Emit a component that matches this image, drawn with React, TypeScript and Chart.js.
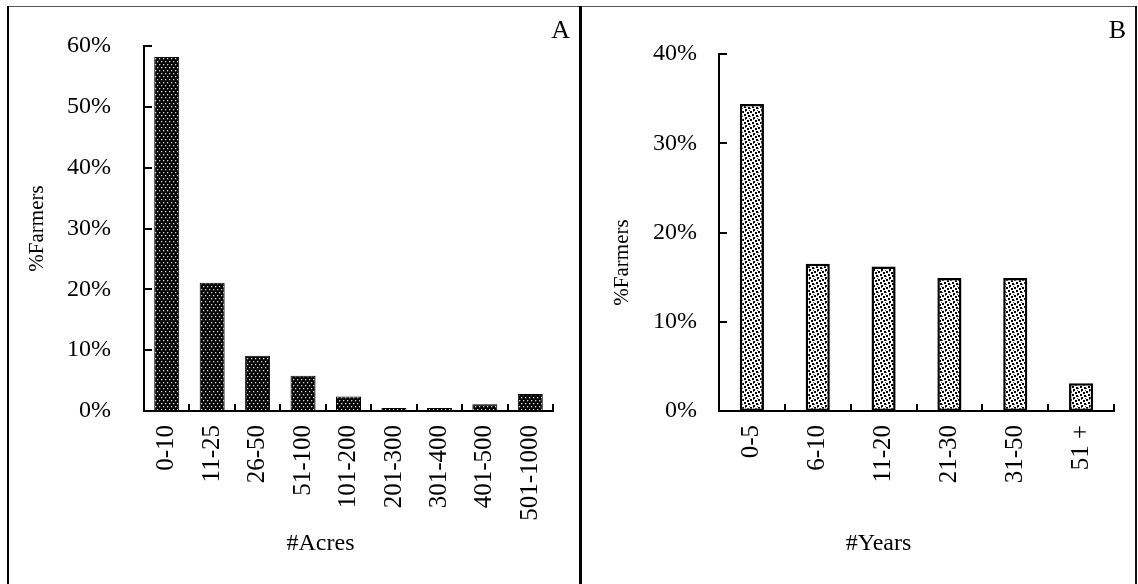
import React, { useEffect, useRef } from 'react';
import { Chart, registerables } from 'chart.js';
Chart.register(...registerables);

// ---- data ----
const acresCategories = ['0-10', '11-25', '26-50', '51-100', '101-200', '201-300', '301-400', '401-500', '501-1000'];
const acresValues = [58.2, 21.1, 9.1, 5.8, 2.4, 0.5, 0.5, 1.1, 2.8];
const acresTickMax = 60;

const yearsCategories = ['0-5', '6-10', '11-20', '21-30', '31-50', '51 +'];
const yearsValues = [34.4, 16.5, 16.2, 14.9, 14.9, 3.1];
const yearsTickMax = 40;

const tickStep = 10;
const FONT = "'Liberation Serif', 'Times New Roman', serif";

function makePatternDark(): CanvasPattern | string {
  const c = document.createElement('canvas');
  c.width = 4; c.height = 6;
  const g = c.getContext('2d');
  if (!g) return '#000';
  g.fillStyle = '#000'; g.fillRect(0, 0, 4, 6);
  g.fillStyle = '#d8d8d8';
  g.fillRect(0, 0, 1.3, 1.3);
  g.fillRect(2, 3, 1.3, 1.3);
  const p = g.createPattern(c, 'repeat');
  return p || '#000';
}

function makePatternLight(): CanvasPattern | string {
  const c = document.createElement('canvas');
  c.width = 8; c.height = 8;
  const g = c.getContext('2d');
  if (!g) return '#fff';
  g.fillStyle = '#fff'; g.fillRect(0, 0, 8, 8);
  g.fillStyle = '#000';
  g.fillRect(0, 0, 2, 2);
  g.fillRect(5, 1, 2, 2);
  g.fillRect(2, 3, 2, 2);
  g.fillRect(6, 4, 2, 2);
  g.fillRect(3, 6, 2, 2);
  g.fillStyle = '#555';
  g.fillRect(0, 5, 1, 1);
  g.fillRect(3, 0, 1, 1);
  g.fillRect(7, 7, 1, 1);
  const p = g.createPattern(c, 'repeat');
  return p || '#fff';
}

const decorPlugin = {
  id: 'decor',
  afterDatasetsDraw(chart: any, _args: any, opts: any) {
    const { ctx, chartArea } = chart;
    const x = chart.scales.x;
    const y = chart.scales.y;
    ctx.save();
    ctx.strokeStyle = '#000';
    ctx.lineWidth = 2;
    const n = chart.data.labels.length;
    const half = (x.getPixelForValue(1) - x.getPixelForValue(0)) / 2;
    ctx.beginPath();
    for (let i = 0; i < n; i++) {
      const px = Math.round(x.getPixelForValue(i) + half);
      ctx.moveTo(px, chartArea.bottom);
      ctx.lineTo(px, chartArea.bottom - 7);
    }
    y.ticks.forEach((t: any) => {
      const py = Math.round(y.getPixelForValue(t.value));
      ctx.moveTo(chartArea.left, py);
      ctx.lineTo(chartArea.left + 8, py);
    });
    ctx.stroke();

    ctx.fillStyle = '#000';
    ctx.textAlign = 'center';
    ctx.textBaseline = 'middle';
    // x title
    ctx.font = `24px ${FONT}`;
    ctx.fillText(opts.xTitle, (chartArea.left + chartArea.right) / 2 + opts.xTitleDx, opts.xTitleY);
    // y title
    ctx.save();
    ctx.font = `21px ${FONT}`;
    ctx.translate(opts.yTitleX, (chartArea.top + chartArea.bottom) / 2 + opts.yTitleDy);
    ctx.rotate(-Math.PI / 2);
    ctx.fillText(opts.yTitle, 0, 0);
    ctx.restore();
    // panel letter
    ctx.font = `26px ${FONT}`;
    ctx.textAlign = 'right';
    ctx.fillText(opts.letter, chart.width - opts.letterRight, opts.letterY);
    ctx.restore();
  },
};

interface PanelProps {
  labels: string[];
  values: number[];
  max: number;
  width: number;
  height: number;
  left: number;
  top: number;
  right: number;
  bottom: number;
  barPct: number;
  dark: boolean;
  tickPad: number;
  xTitle: string;
  xTitleDx: number;
  yTitleX: number;
  yTitleDy: number;
  letter: string;
}

function Panel(p: PanelProps) {
  const ref = useRef<HTMLCanvasElement | null>(null);
  useEffect(() => {
    if (!ref.current) return;
    const chart = new Chart(ref.current, {
      type: 'bar',
      data: {
        labels: p.labels,
        datasets: [
          {
            data: p.values,
            backgroundColor: p.dark ? makePatternDark() : makePatternLight(),
            borderColor: '#000',
            borderWidth: p.dark ? 1 : 2.5,
            borderSkipped: false,
            barPercentage: p.barPct,
            categoryPercentage: 1,
          } as any,
        ],
      },
      options: {
        animation: false,
        responsive: false,
        layout: { padding: { left: 0, top: p.top, right: p.width - p.right, bottom: 0 } },
        plugins: {
          legend: { display: false },
          tooltip: { enabled: false },
          decor: {
            xTitle: p.xTitle,
            xTitleDx: p.xTitleDx,
            xTitleY: 537,
            yTitle: '%Farmers',
            yTitleX: p.yTitleX,
            yTitleDy: p.yTitleDy,
            letter: p.letter,
            letterRight: 9,
            letterY: 24,
          },
        } as any,
        scales: {
          x: {
            grid: { display: false, drawTicks: false },
            border: { display: true, color: '#000', width: 2, z: 1 },
            ticks: {
              color: '#000',
              font: { family: FONT, size: 25 },
              minRotation: 90,
              maxRotation: 90,
              autoSkip: false,
              padding: 14,
            },
            afterFit: (s: any) => { s.height = p.height - p.bottom; s.paddingLeft = 0; s.paddingRight = 0; },
          },
          y: {
            min: 0,
            max: p.max,
            grid: { display: false, drawTicks: false },
            border: { display: true, color: '#000', width: 2, z: 1 },
            ticks: {
              stepSize: tickStep,
              color: '#000',
              font: { family: FONT, size: 24 },
              padding: p.tickPad,
              callback: (v: any) => `${v}%`,
            },
            afterFit: (s: any) => { s.width = p.left; s.paddingTop = 0; s.paddingBottom = 0; },
          },
        },
      },
      plugins: [decorPlugin],
    });
    return () => chart.destroy();
  }, []);
  return <canvas ref={ref} width={p.width} height={p.height} style={{ display: 'block', width: p.width, height: p.height }} />;
}

export default function App() {
  return (
    <div style={{ position: 'absolute', left: 0, top: 0, width: 1138, height: 584, background: '#fff', overflow: 'hidden' }}>
      <div style={{ position: 'absolute', left: 7, top: 6, width: 1130, height: 1, background: '#555' }} />
      <div style={{ position: 'absolute', left: 7, top: 6, width: 2, height: 578, background: '#000' }} />
      <div style={{ position: 'absolute', left: 579, top: 6, width: 3, height: 578, background: '#000' }} />
      <div style={{ position: 'absolute', left: 1135, top: 6, width: 2, height: 578, background: '#111' }} />
      <div style={{ position: 'absolute', left: 9, top: 7 }}>
        <Panel
          labels={acresCategories}
          values={acresValues}
          max={acresTickMax}
          width={570}
          height={577}
          left={135}
          top={39}
          right={544}
          bottom={404}
          barPct={0.55}
          dark={true}
          tickPad={33}
          xTitle="#Acres"
          xTitleDx={-28}
          yTitleX={28}
          yTitleDy={0}
          letter="A"
        />
      </div>
      <div style={{ position: 'absolute', left: 582, top: 7 }}>
        <Panel
          labels={yearsCategories}
          values={yearsValues}
          max={yearsTickMax}
          width={553}
          height={577}
          left={137}
          top={47}
          right={532}
          bottom={404}
          barPct={0.366}
          dark={false}
          tickPad={22}
          xTitle="#Years"
          xTitleDx={-38}
          yTitleX={40}
          yTitleDy={30}
          letter="B"
        />
      </div>
    </div>
  );
}
